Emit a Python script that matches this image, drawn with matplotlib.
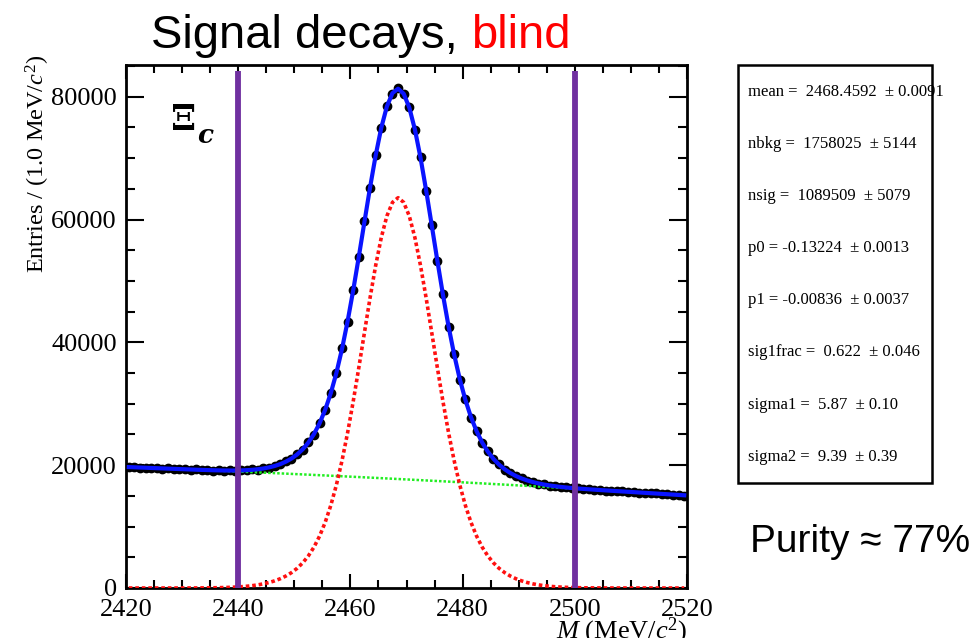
"""Signal-region mass fit for the Xi_c sample (blinded)."""

import matplotlib

matplotlib.use("Agg")

import matplotlib.pyplot as plt
import numpy as np
from matplotlib.patches import Rectangle
from matplotlib.ticker import MultipleLocator

plt.rcParams["font.family"] = ["Liberation Serif", "DejaVu Serif"]
plt.rcParams["mathtext.fontset"] = "custom"
plt.rcParams["mathtext.rm"] = "Liberation Serif"
plt.rcParams["mathtext.it"] = "Liberation Serif:italic"

# 1 MeV bins between 2420 and 2520 MeV
BIN_LOW = 2420.0
BIN_WIDTH = 1.0
N_BINS = 100

data_counts = [
    19660, 19700, 19590, 19620, 19510, 19560, 19430, 19480, 19390, 19300,
    19350, 19240, 19310, 19150, 19260, 19120, 19210, 19060, 19180, 19090,
    19220, 19140, 19310, 19270, 19510, 19590, 19940, 20110, 20640, 21020,
    21810, 22520, 23760, 24980, 26900, 28920, 31820, 34930, 39020, 43330,
    48560, 53850, 59720, 65110, 70530, 74840, 78510, 80500, 81350, 80420,
    78310, 74560, 70170, 64650, 59150, 53200, 47830, 42520, 38090, 33910,
    30700, 27730, 25600, 23610, 22270, 20960, 20150, 19280, 18790, 18180,
    17890, 17470, 17300, 16990, 16890, 16660, 16610, 16420, 16400, 16240,
    16240, 16100, 16110, 15960, 15990, 15850, 15870, 15740, 15760, 15620,
    15650, 15510, 15530, 15400, 15420, 15290, 15340, 15180, 15200, 15060,
]

signal_curve = [
    0, 0, 0, 0, 0, 0, 1, 1, 2, 3,
    5, 7, 11, 17, 25, 36, 53, 75, 106, 149,
    205, 281, 380, 510, 678, 892, 1165, 1511, 1950, 2504,
    3204, 4093, 5219, 6644, 8438, 10675, 13430, 16767, 20715, 25270,
    30367, 35872, 41582, 47228, 52492, 57043, 60564, 62790, 63553, 62790,
    60564, 57043, 52492, 47228, 41582, 35872, 30367, 25270, 20715, 16767,
    13430, 10675, 8438, 6644, 5219, 4093, 3204, 2504, 1950, 1511,
    1165, 892, 678, 510, 380, 281, 205, 149, 106, 75,
    53, 36, 25, 17, 11, 7, 5, 3, 2, 1,
    1, 1, 0, 0, 0, 0, 0, 0, 0, 0,
]

background_curve = [
    19686, 19651, 19616, 19581, 19545, 19509, 19473, 19437, 19400, 19364,
    19327, 19289, 19252, 19214, 19176, 19138, 19100, 19061, 19022, 18983,
    18944, 18904, 18864, 18824, 18784, 18744, 18703, 18662, 18621, 18579,
    18538, 18496, 18454, 18411, 18368, 18326, 18283, 18239, 18196, 18152,
    18108, 18064, 18019, 17974, 17930, 17884, 17839, 17793, 17747, 17701,
    17655, 17608, 17561, 17514, 17467, 17420, 17372, 17324, 17275, 17227,
    17178, 17129, 17080, 17031, 16981, 16931, 16881, 16831, 16780, 16729,
    16678, 16627, 16575, 16524, 16472, 16419, 16367, 16314, 16261, 16208,
    16155, 16101, 16047, 15993, 15939, 15884, 15829, 15774, 15719, 15664,
    15608, 15552, 15496, 15439, 15383, 15326, 15269, 15211, 15153, 15096,
]

blind_window = [2440, 2500]

fit_parameters = [
    "mean =  2468.4592  \u00b1 0.0091",
    "nbkg =  1758025  \u00b1 5144",
    "nsig =  1089509  \u00b1 5079",
    "p0 = -0.13224  \u00b1 0.0013",
    "p1 = -0.00836  \u00b1 0.0037",
    "sig1frac =  0.622  \u00b1 0.046",
    "sigma1 =  5.87  \u00b1 0.10",
    "sigma2 =  9.39  \u00b1 0.39",
]

W, H = 972, 638

mass = BIN_LOW + BIN_WIDTH * (np.arange(N_BINS) + 0.5)
counts = np.array(data_counts, dtype=float)
signal = np.array(signal_curve, dtype=float)
background = np.array(background_curve, dtype=float)
total = signal + background

fig = plt.figure(figsize=(W / 100, H / 100), dpi=100)
ax = fig.add_axes([126 / W, 1 - 588 / H, (687 - 126) / W, (588 - 65) / H])

ax.errorbar(mass, counts, xerr=BIN_WIDTH / 2, yerr=np.sqrt(counts),
            fmt="o", color="black", ms=6.0, elinewidth=1.4, capsize=0,
            zorder=2)
ax.plot(mass, background, color="#22ee22", lw=1.8,
        linestyle=(0, (1, 0.8)), zorder=3)
ax.plot(mass, signal, color="#ff1010", lw=2.6,
        linestyle=(0, (1, 0.8)), zorder=3)
ax.plot(mass, total, color="#0a14ff", lw=3.0, zorder=4)
ax.vlines(blind_window, 0, 84200, color="#7030a0", lw=4.2, zorder=5)

ax.set_xlim(2420, 2520)
ax.set_ylim(0, 85160)
ax.xaxis.set_major_locator(MultipleLocator(20))
ax.xaxis.set_minor_locator(MultipleLocator(5))
ax.yaxis.set_major_locator(MultipleLocator(20000))
ax.yaxis.set_minor_locator(MultipleLocator(5000))
ax.tick_params(which="both", direction="in", top=True, right=True,
               width=1.5, labelsize=19)
ax.tick_params(axis="x", which="major", length=10, pad=8)
ax.tick_params(axis="x", which="minor", length=5.8)
ax.tick_params(axis="y", which="major", length=13, pad=6.5)
ax.tick_params(axis="y", which="minor", length=6.5)
for spine in ax.spines.values():
    spine.set_linewidth(2.0)

ax.set_ylabel(r"Entries / (1.0 MeV/$c^{2}$)", fontsize=17.5, loc="top")
ax.yaxis.set_label_coords(-0.132, 1.019)
ax.set_xlabel(r"$M$ (MeV/$c^{2}$)", fontsize=19, loc="right")
ax.xaxis.set_label_coords(1.0, -0.052)

# species label
fig.text(171 / W, 1 - 130 / H, "\u039e", fontsize=26, fontweight="bold",
         family=["DejaVu Serif"], va="baseline")
fig.text(197 / W, 1 - 143 / H, "c", fontsize=19, fontweight="bold",
         style="italic", family=["DejaVu Serif"], va="baseline")

# title, with the blinded part in red
title = fig.text(151 / W, 1 - 48 / H, "Signal decays,", fontsize=34,
                 family=["Liberation Sans", "DejaVu Sans"], va="baseline")
fig.canvas.draw()
ax.annotate("blind", xy=(1, 0), xycoords=title, xytext=(9.5, 0),
            textcoords="offset points", va="bottom", ha="left",
            fontsize=34, color="#ff0000",
            family=["Liberation Sans", "DejaVu Sans"],
            annotation_clip=False)

# fit result box
fig.patches.append(Rectangle((738 / W, 1 - 483 / H), (932 - 738) / W,
                             (483 - 65) / H, transform=fig.transFigure,
                             fill=False, lw=1.8, edgecolor="black"))
for i, line in enumerate(fit_parameters):
    fig.text(748 / W, 1 - (91.7 + 52.14 * i) / H, line, fontsize=12,
             va="center")

fig.text(750 / W, 1 - 552 / H, "Purity \u2248 77%", fontsize=28,
         family=["Liberation Sans", "DejaVu Sans"], va="baseline")

fig.savefig("out.png", dpi=100)
